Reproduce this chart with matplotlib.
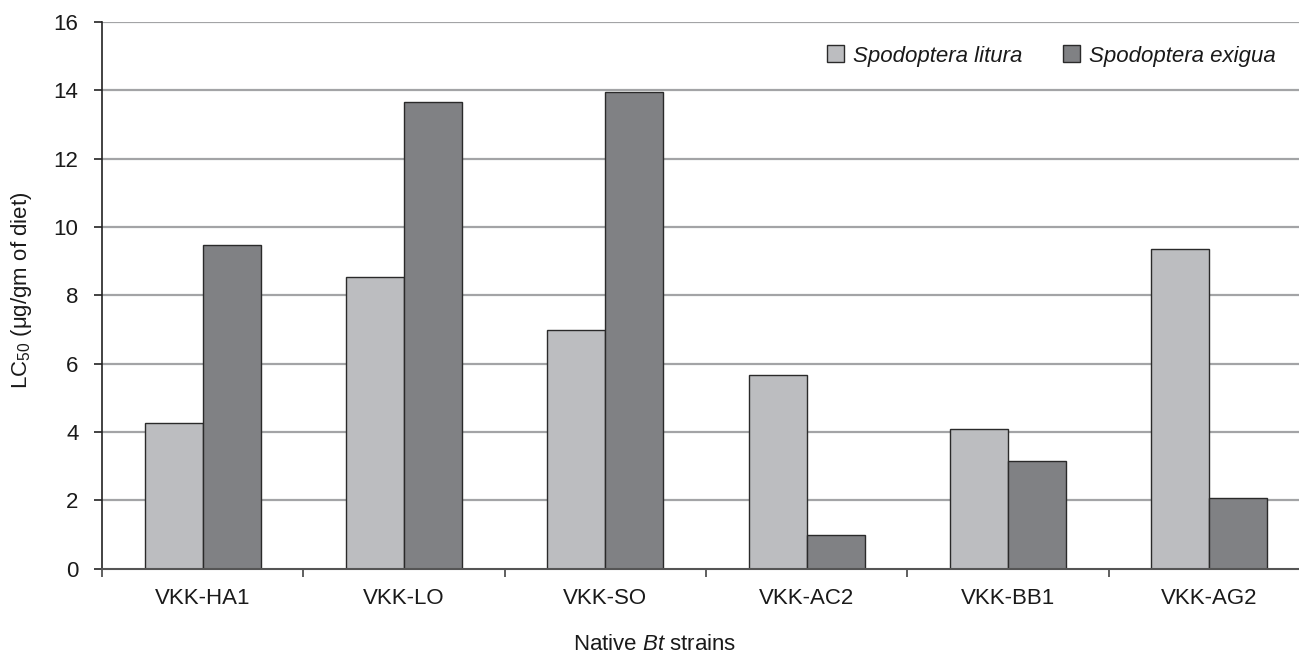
import matplotlib
matplotlib.use("Agg")
import matplotlib.pyplot as plt
import numpy as np
from matplotlib.patches import Patch

plt.rcParams['font.family'] = ['Liberation Sans', 'DejaVu Sans']
plt.rcParams['mathtext.fontset'] = 'custom'
plt.rcParams['mathtext.rm'] = 'Liberation Sans'
plt.rcParams['mathtext.it'] = 'Liberation Sans:italic'

strains = ["VKK-HA1", "VKK-LO", "VKK-SO", "VKK-AC2", "VKK-BB1", "VKK-AG2"]
litura = [4.27, 8.54, 7.0, 5.66, 4.09, 9.35]
exigua = [9.47, 13.67, 13.94, 1.0, 3.15, 2.06]
series_names = ["Spodoptera litura", "Spodoptera exigua"]
yticks = [0, 2, 4, 6, 8, 10, 12, 14, 16]

light = "#bcbdc0"
dark = "#808184"
edge = "#2a2a2a"
FS = 16

fig = plt.figure(figsize=(12.99, 6.55), dpi=100)
ax = fig.add_axes([102/1299, 86.3/655, 1208/1299, 546.7/655])

x = np.arange(len(strains))
w = 0.288
ax.bar(x - w/2, litura, width=w, color=light, edgecolor=edge, linewidth=1.0, zorder=3)
ax.bar(x + w/2, exigua, width=w, color=dark, edgecolor=edge, linewidth=1.0, zorder=3)

ax.set_xlim(-0.5, len(strains) - 0.5)
ax.set_ylim(0, 16)
ax.set_yticks(yticks)
ax.set_yticklabels([str(v) for v in yticks])
for v in yticks[1:]:
    ax.axhline(v, color="#a3a4a6", linewidth=1.6, zorder=1)

ax.set_xticks(np.arange(len(strains) + 1) - 0.5)
ax.set_xticklabels([])
ax.set_xticks(x, minor=True)
ax.set_xticklabels(strains, minor=True)
ax.tick_params(axis='x', which='major', length=6, width=1.2, color="#444444", direction='out')
ax.tick_params(axis='x', which='minor', length=0, pad=14, labelsize=FS, labelcolor="#1a1a1a")
ax.tick_params(axis='y', length=6, width=1.2, color="#222222", pad=11, labelsize=FS, labelcolor="#1a1a1a")

for s in ['top', 'right']:
    ax.spines[s].set_visible(False)
ax.spines['left'].set_color("#222222")
ax.spines['left'].set_linewidth(1.2)
ax.spines['bottom'].set_color("#555555")
ax.spines['bottom'].set_linewidth(1.5)
ax.spines['left'].set_zorder(4)
ax.spines['bottom'].set_zorder(4)

fig.text(22/1299, 1 - 290/655, r"LC$_{50}$ ($\mathrm{\mu}$g/gm of diet)", rotation=90,
         ha='center', va='center', fontsize=FS, color="#1a1a1a")
fig.text(655/1299, 1 - 645/655, r"Native $\it{Bt}$ strains", ha='center', va='center',
         fontsize=FS, color="#1a1a1a")

handles = [Patch(facecolor=light, edgecolor=edge, linewidth=1.0),
           Patch(facecolor=dark, edgecolor=edge, linewidth=1.0)]
leg = fig.legend(handles, series_names, loc='center right',
                 bbox_to_anchor=(1280/1299, 1 - 56/655), ncol=2, frameon=False,
                 prop={'family': 'Liberation Sans', 'style': 'italic', 'size': FS},
                 handlelength=0.78, handleheight=0.78, handletextpad=0.4,
                 columnspacing=1.8, borderpad=0.2, borderaxespad=0)
for t in leg.get_texts():
    t.set_color("#1a1a1a")

fig.savefig("out.png", dpi=100)
